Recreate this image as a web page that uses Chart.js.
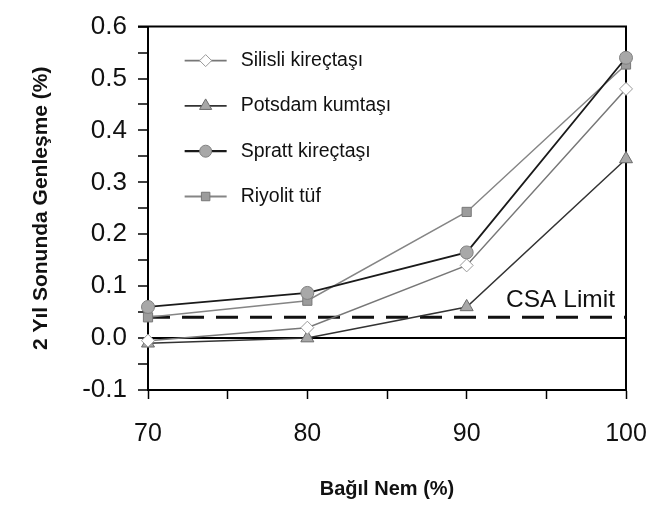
<!DOCTYPE html>
<html>
<head>
<meta charset="utf-8">
<script src="https://cdn.jsdelivr.net/npm/chart.js@4.4.0/dist/chart.umd.min.js"></script>
<style>
  html, body { margin: 0; padding: 0; background: #fff; overflow: hidden; }
  #wrap { width: 670px; height: 507px; }
</style>
</head>
<body>
<div id="wrap"><canvas id="cv"></canvas></div>
<script>
// relative humidity (%)
const humidity = [70, 80, 90, 100];
const silisli = [-0.005, 0.02, 0.14, 0.48];
const potsdam = [-0.01, 0.0, 0.06, 0.345];
const spratt = [0.06, 0.087, 0.165, 0.54];
const riyolit = [0.04, 0.072, 0.243, 0.527];
const csaX = [70, 100];
const csaLimit = [0.04, 0.04];
const seriesNames = ['Silisli kireçtaşı', 'Potsdam kumtaşı', 'Spratt kireçtaşı', 'Riyolit tüf'];

const FONT = "'Liberation Sans', Arial, sans-serif";

function pts(xs, ys){
  return xs.map((x, i) => ({x: x, y: ys[i]}));
}

// legend drawn inside the plot area, top left
const insideLegend = {
  id: 'insideLegend',
  afterDatasetsDraw(chart){
    const ctx = chart.ctx;
    const x0 = chart.scales.x.getPixelForValue(72.3);
    const top = chart.chartArea.top;
    ctx.save();
    for (let i = 0; i < 4; i++){
      const ds = chart.data.datasets[i];
      const y = top + 34 + i * 45.3;
      ctx.strokeStyle = ds.borderColor;
      ctx.lineWidth = ds.borderWidth + 0.4;
      ctx.beginPath();
      ctx.moveTo(x0, y);
      ctx.lineTo(x0 + 42, y);
      ctx.stroke();
      ctx.fillStyle = ds.pointBackgroundColor;
      ctx.strokeStyle = ds.pointBorderColor;
      ctx.lineWidth = 1;
      Chart.helpers.drawPoint(ctx, {pointStyle: ds.pointStyle, radius: ds.pointRadius - 0.5, rotation: 0, borderWidth: 1}, x0 + 21, y);
      ctx.fillStyle = '#111';
      ctx.font = '19.5px ' + FONT;
      ctx.textAlign = 'left';
      ctx.textBaseline = 'middle';
      ctx.fillText(seriesNames[i], x0 + 56, y);
    }
    ctx.restore();
  }
};

// top/right frame and CSA label
const frame = {
  id: 'frame',
  beforeDatasetsDraw(chart){
    const ctx = chart.ctx;
    const a = chart.chartArea;
    ctx.save();
    ctx.strokeStyle = '#000';
    ctx.lineWidth = 2;
    ctx.beginPath();
    ctx.moveTo(a.left - 10, a.top);
    ctx.lineTo(a.right, a.top);
    ctx.lineTo(a.right, a.bottom);
    ctx.stroke();
    ctx.restore();
  },
  afterDraw(chart){
    const ctx = chart.ctx;
    ctx.save();
    const y = chart.scales.y.getPixelForValue(csaLimit[1]);
    const x = chart.scales.x.getPixelForValue(csaX[1]);
    ctx.fillStyle = '#111';
    ctx.font = '24.5px ' + FONT;
    ctx.textAlign = 'right';
    ctx.textBaseline = 'middle';
    ctx.fillText('CSA Limit', x - 11, y - 17);
    ctx.restore();
  }
};

const ctxEl = document.getElementById('cv');
new Chart(ctxEl, {
  type: 'line',
  data: {
    datasets: [{
      label: seriesNames[0],
      data: pts(humidity, silisli),
      clip: false,
      borderColor: '#777',
      borderWidth: 1.5,
      pointStyle: 'rectRot',
      pointRadius: 6.5,
      pointBackgroundColor: '#ffffff',
      pointBorderColor: '#999',
      pointBorderWidth: 1
    }, {
      label: seriesNames[1],
      data: pts(humidity, potsdam),
      clip: false,
      borderColor: '#333',
      borderWidth: 1.5,
      pointStyle: 'triangle',
      pointRadius: 7.5,
      pointBackgroundColor: '#a8a8a8',
      pointBorderColor: '#6a6a6a',
      pointBorderWidth: 1
    }, {
      label: seriesNames[2],
      data: pts(humidity, spratt),
      clip: false,
      borderColor: '#1a1a1a',
      borderWidth: 1.8,
      pointStyle: 'circle',
      pointRadius: 6.5,
      pointBackgroundColor: '#a8a8a8',
      pointBorderColor: '#808080',
      pointBorderWidth: 1
    }, {
      label: seriesNames[3],
      data: pts(humidity, riyolit),
      clip: false,
      borderColor: '#858585',
      borderWidth: 1.5,
      pointStyle: 'rect',
      pointRadius: 6.5,
      pointBackgroundColor: '#9c9c9c',
      pointBorderColor: '#777',
      pointBorderWidth: 1
    }, {
      label: 'CSA Limit',
      data: pts(csaX, csaLimit),
      borderColor: '#111',
      borderWidth: 3,
      borderDash: [22, 12],
      pointRadius: 0
    }]
  },
  options: {
    responsive: true,
    maintainAspectRatio: false,
    animation: false,
    layout: { padding: { left: 25, top: 23, right: 44, bottom: 0 } },
    plugins: {
      legend: { display: false },
      tooltip: { enabled: false }
    },
    scales: {
      x: {
        type: 'linear',
        min: 70,
        max: 100,
        afterFit(scale){ scale.height = 117; },
        grid: { drawOnChartArea: false, tickLength: 9, color: '#000', tickColor: '#000', tickWidth: 1.5 },
        border: { display: true, color: '#000', width: 2 },
        ticks: {
          stepSize: 5,
          padding: 20,
          maxRotation: 0,
          autoSkip: false,
          color: '#111',
          font: { family: FONT, size: 25 },
          callback: v => (v % 10 === 0 ? String(v) : '')
        },
        title: {
          display: true,
          text: 'Bağıl Nem (%)',
          color: '#111',
          padding: { top: 4, bottom: 6 },
          font: { family: FONT, size: 20, weight: 'bold' }
        }
      },
      y: {
        min: -0.1,
        max: 0.6,
        afterFit(scale){ scale.width = 123; },
        grid: {
          drawOnChartArea: true,
          tickLength: 10,
          lineWidth: 2,
          tickWidth: 1.5,
          tickColor: '#000',
          color: c => (c.tick && Math.abs(c.tick.value) < 1e-9 ? '#000' : 'rgba(0,0,0,0)')
        },
        border: { display: true, color: '#000', width: 2 },
        ticks: {
          stepSize: 0.05,
          padding: 11,
          autoSkip: false,
          color: '#111',
          font: { family: FONT, size: 26 },
          callback: v => {
            const t = v * 10;
            return Math.abs(t - Math.round(t)) < 1e-6 ? (Math.round(t) / 10).toFixed(1) : '';
          }
        },
        title: {
          display: true,
          text: '2 Yıl Sonunda Genleşme (%)',
          color: '#111',
          padding: { top: 4, bottom: 4 },
          font: { family: FONT, size: 21, weight: 'bold' }
        }
      }
    }
  },
  plugins: [insideLegend, frame]
});
</script>
</body>
</html>
